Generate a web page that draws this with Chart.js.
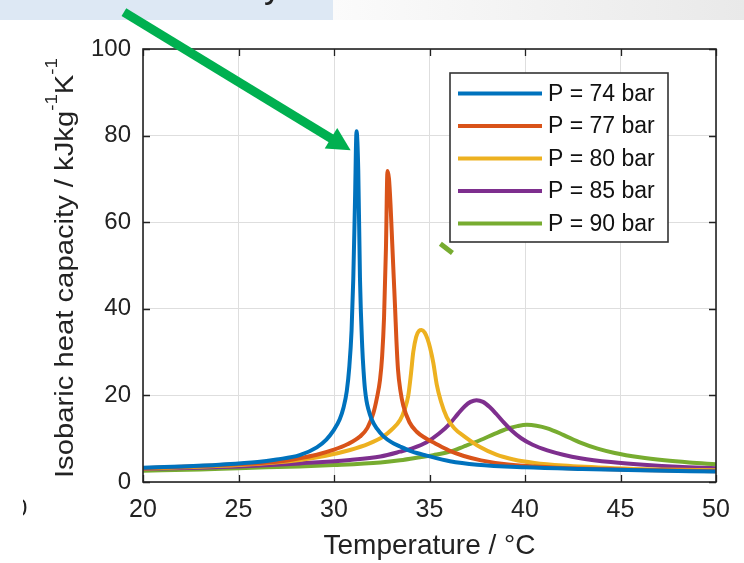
<!DOCTYPE html>
<html>
<head>
<meta charset="utf-8">
<script src="https://cdn.jsdelivr.net/npm/chart.js@4.4.1/dist/chart.umd.min.js"></script>
<style>
  html, body { margin: 0; padding: 0; background: #fff; }
  canvas { display: block; }
</style>
</head>
<body>
<canvas id="grafico" width="744" height="563"></canvas>
<script>
// Datos (temperatura en °C, cp en kJ/kg/K)
const etiquetas = ['P = 74 bar', 'P = 77 bar', 'P = 80 bar', 'P = 85 bar', 'P = 90 bar'];

const t74 = [20, 22, 24, 26, 27, 28.2, 29.1, 29.6, 29.96, 30.3, 30.5, 30.67, 30.8, 30.92, 31.01, 31.1, 31.18, 31.27, 31.36, 31.48, 31.55, 31.62, 31.7, 31.8, 31.97, 32.25, 32.58, 33.0, 33.46, 34.1, 34.85, 36.07, 37.5, 40, 43, 46, 50];
const cp74 = [3.3, 3.6, 4.0, 4.6, 5.2, 6.2, 8.0, 9.8, 11.8, 14.5, 17.2, 21, 26.5, 35, 47, 65, 81, 72, 47, 31, 25.5, 21.5, 18.8, 16.8, 14.5, 12.3, 10.6, 9.2, 8.2, 7.0, 6.1, 4.8, 4.0, 3.4, 3.0, 2.7, 2.4];

const t77 = [20, 22, 25, 27, 28.2, 29.1, 29.96, 30.7, 31.36, 31.75, 32.06, 32.25, 32.41, 32.52, 32.62, 32.72, 32.8, 32.88, 32.96, 33.05, 33.13, 33.2, 33.27, 33.35, 33.48, 33.63, 33.95, 34.33, 34.8, 35.3, 36.0, 36.8, 37.7, 39, 40.5, 43, 46, 50];
const cp77 = [3.2, 3.5, 4.1, 4.7, 5.5, 6.3, 7.4, 8.7, 10.5, 12.5, 15.9, 19.5, 23.6, 29, 38, 54, 71.8, 70, 64, 55, 47, 40, 32.5, 26, 21, 17.6, 13.8, 11.6, 10.1, 8.9, 7.3, 6.0, 5.0, 4.1, 3.6, 3.1, 2.8, 2.5];

const t80 = [20, 22, 25, 28.2, 29.5, 30.84, 31.8, 32.58, 33.0, 33.46, 33.7, 33.89, 34.03, 34.15, 34.3, 34.45, 34.59, 34.75, 34.9, 35.03, 35.2, 35.38, 35.6, 35.9, 36.3, 36.8, 37.67, 38.5, 39.4, 40.5, 42, 44.7, 47, 50];
const cp80 = [3.1, 3.4, 3.9, 5.1, 6.0, 7.4, 8.8, 10.5, 12.0, 14.3, 16.8, 20.0, 25.0, 30.0, 33.5, 34.9, 35.1, 34.5, 33.0, 31.0, 27.5, 22.5, 18.6, 15.0, 12.4, 10.6, 8.0, 6.3, 5.2, 4.4, 3.8, 3.2, 2.9, 2.7];

const t85 = [20, 23, 25, 28.2, 30.84, 32.43, 33.46, 34.17, 34.85, 35.5, 36.07, 36.5, 36.85, 37.15, 37.46, 37.8, 38.15, 38.5, 38.9, 39.3, 39.8, 40.4, 41.17, 42, 42.9, 44.5, 46.4, 48, 50];
const cp85 = [3.0, 3.3, 3.6, 4.3, 5.1, 5.9, 7.0, 7.9, 9.2, 11.2, 13.5, 15.8, 17.5, 18.5, 18.9, 18.5, 17.3, 15.7, 13.7, 11.9, 10.1, 8.6, 7.3, 6.3, 5.5, 4.6, 3.9, 3.5, 3.2];

const t90 = [20, 23, 25, 28.2, 30, 32.43, 33.46, 34.5, 35.2, 36.07, 36.8, 37.67, 38.4, 39.07, 39.6, 40.1, 40.6, 41.17, 42, 42.9, 43.8, 44.7, 46, 47.3, 48.6, 50];
const cp90 = [2.6, 2.9, 3.2, 3.6, 3.9, 4.5, 5.0, 5.7, 6.2, 7.0, 8.2, 9.7, 11.1, 12.3, 12.9, 13.2, 13.0, 12.4, 10.9, 9.1, 7.7, 6.7, 5.7, 5.0, 4.5, 4.1];

const xTicks = [20, 25, 30, 35, 40, 45, 50];
const yTicks = [0, 20, 40, 60, 80, 100];

const colores = ['#0072BD', '#D95319', '#EDB120', '#7E2F8E', '#77AC30'];
const fuente = "'Liberation Sans', Arial, Helvetica, sans-serif";
const colorEje = '#222222';

const series = [[t74, cp74], [t77, cp77], [t80, cp80], [t85, cp85], [t90, cp90]];

// Fondo de la diapositiva (recuadro azul, franja gris, restos de texto)
const fondo = {
    id: 'fondo',
    beforeDraw(chart) {
        const ctx = chart.ctx;
        ctx.save();
        ctx.fillStyle = '#fff';
        ctx.fillRect(0, 0, chart.width, chart.height);
        const grad = ctx.createLinearGradient(333, 0, 744, 0);
        grad.addColorStop(0, '#fbfbfb');
        grad.addColorStop(1, '#e9e9e9');
        ctx.fillStyle = grad;
        ctx.fillRect(333, 0, 411, 20);
        ctx.fillStyle = '#dde8f4';
        ctx.fillRect(0, 0, 333, 20);
        ctx.fillStyle = '#222';
        ctx.font = '36px ' + fuente;
        ctx.textBaseline = 'alphabetic';
        ctx.fillText('y', 264, -3.5);
        // "0" cortado a la izquierda
        ctx.beginPath();
        ctx.rect(23, 490, 20, 40);
        ctx.clip();
        ctx.fillStyle = colorEje;
        ctx.font = '24px ' + fuente;
        ctx.fillText('0', 14, 516);
        ctx.restore();
    }
};

// Marco, marcas interiores, leyenda, título del eje Y y flecha
const adornos = {
    id: 'adornos',
    afterDatasetsDraw(chart) {
        const ctx = chart.ctx;
        const a = chart.chartArea;
        const xs = chart.scales.x, ys = chart.scales.y;
        ctx.save();

        // marcas hacia dentro
        ctx.strokeStyle = colorEje;
        ctx.lineWidth = 1.3;
        ctx.beginPath();
        xTicks.forEach(v => {
            const px = Math.round(xs.getPixelForValue(v)) + 0.5;
            ctx.moveTo(px, a.bottom); ctx.lineTo(px, a.bottom - 7);
            ctx.moveTo(px, a.top); ctx.lineTo(px, a.top + 7);
        });
        yTicks.forEach(v => {
            const py = Math.round(ys.getPixelForValue(v)) + 0.5;
            ctx.moveTo(a.left, py); ctx.lineTo(a.left + 7, py);
            ctx.moveTo(a.right, py); ctx.lineTo(a.right - 7, py);
        });
        ctx.stroke();

        // marco
        ctx.lineWidth = 1.6;
        ctx.strokeRect(a.left, a.top, a.right - a.left, a.bottom - a.top);

        // trozo verde junto a la leyenda
        ctx.strokeStyle = '#77AC30';
        ctx.lineWidth = 5;
        ctx.beginPath();
        ctx.moveTo(xs.getPixelForValue(35.57), ys.getPixelForValue(55.0));
        ctx.lineTo(xs.getPixelForValue(36.2), ys.getPixelForValue(52.9));
        ctx.stroke();

        // leyenda
        const lx = 450, ly = 73, lw = 218, lh = 169;
        ctx.fillStyle = '#fff';
        ctx.fillRect(lx, ly, lw, lh);
        ctx.strokeStyle = '#333';
        ctx.lineWidth = 1.6;
        ctx.strokeRect(lx, ly, lw, lh);
        ctx.font = '23px ' + fuente;
        ctx.textBaseline = 'middle';
        ctx.textAlign = 'left';
        chart.data.datasets.forEach((ds, i) => {
            const y = ly + 20.5 + i * 32.5;
            ctx.strokeStyle = ds.borderColor;
            ctx.lineWidth = 4;
            ctx.beginPath();
            ctx.moveTo(lx + 8, y); ctx.lineTo(lx + 92, y);
            ctx.stroke();
            ctx.fillStyle = '#111';
            ctx.fillText(ds.label, lx + 98, y + 1);
        });

        // flecha verde
        const x0 = xs.getPixelForValue(19.0), y0 = ys.getPixelForValue(108.5);
        const x1 = xs.getPixelForValue(30.87), y1 = ys.getPixelForValue(76.6);
        const ang = Math.atan2(y1 - y0, x1 - x0);
        const largo = 23, ancho = 12;
        const bx = x1 - largo * Math.cos(ang), by = y1 - largo * Math.sin(ang);
        ctx.strokeStyle = '#00B050';
        ctx.fillStyle = '#00B050';
        ctx.lineWidth = 9;
        ctx.lineCap = 'butt';
        ctx.beginPath();
        ctx.moveTo(x0, y0); ctx.lineTo(bx + 2 * Math.cos(ang), by + 2 * Math.sin(ang));
        ctx.stroke();
        ctx.beginPath();
        ctx.moveTo(x1, y1);
        ctx.lineTo(bx + ancho * Math.sin(ang), by - ancho * Math.cos(ang));
        ctx.lineTo(bx - ancho * Math.sin(ang), by + ancho * Math.cos(ang));
        ctx.closePath();
        ctx.fill();

        ctx.restore();
    },
    afterDraw(chart) {
        // título del eje Y con superíndices
        const ctx = chart.ctx;
        const partes = [['Isobaric heat capacity / kJkg', false], ['-1', true], ['K', false], ['-1', true]];
        const fNormal = '25px ' + fuente, fSup = '16px ' + fuente;
        ctx.save();
        let total = 0;
        partes.forEach(p => { ctx.font = p[1] ? fSup : fNormal; total += ctx.measureText(p[0]).width; });
        const escala = 420 / total;
        ctx.translate(66.5, 268);
        ctx.rotate(-Math.PI / 2);
        ctx.scale(escala, 1);
        ctx.fillStyle = colorEje;
        ctx.textBaseline = 'alphabetic';
        let x = -total / 2;
        partes.forEach(p => {
            ctx.font = p[1] ? fSup : fNormal;
            ctx.fillText(p[0], x, p[1] ? -10 : 6.5);
            x += ctx.measureText(p[0]).width;
        });
        ctx.restore();
    }
};

new Chart(document.getElementById('grafico'), {
    type: 'line',
    data: {
        datasets: series.map((s, i) => ({
            label: etiquetas[i],
            data: s[0].map((t, j) => ({ x: t, y: s[1][j] })),
            borderColor: colores[i],
            backgroundColor: colores[i],
            borderWidth: 4,
            pointRadius: 0,
            fill: false,
            cubicInterpolationMode: 'monotone'
        }))
    },
    options: {
        responsive: false,
        devicePixelRatio: 1,
        animation: false,
        layout: { padding: { left: 0, right: 28, top: 49, bottom: 0 } },
        plugins: {
            legend: { display: false },
            tooltip: { enabled: false }
        },
        scales: {
            x: {
                type: 'linear',
                min: 20,
                max: 50,
                afterBuildTicks: s => { s.ticks = xTicks.map(v => ({ value: v })); },
                afterFit: s => { s.height = 81; },
                grid: { color: '#dedede', lineWidth: 1, drawTicks: false },
                border: { display: false },
                ticks: {
                    padding: 13,
                    color: colorEje,
                    font: { family: fuente, size: 25 },
                    maxRotation: 0
                },
                title: {
                    display: true,
                    text: 'Temperature / °C',
                    color: colorEje,
                    font: { family: fuente, size: 28 },
                    padding: { top: 0, bottom: 0 }
                }
            },
            y: {
                min: 0,
                max: 100,
                afterBuildTicks: s => { s.ticks = yTicks.map(v => ({ value: v })); },
                afterFit: s => { s.width = 143; },
                grid: { color: '#dedede', lineWidth: 1, drawTicks: false },
                border: { display: false },
                ticks: {
                    padding: 12,
                    color: colorEje,
                    font: { family: fuente, size: 24 }
                }
            }
        }
    },
    plugins: [fondo, adornos]
});
</script>
</body>
</html>
